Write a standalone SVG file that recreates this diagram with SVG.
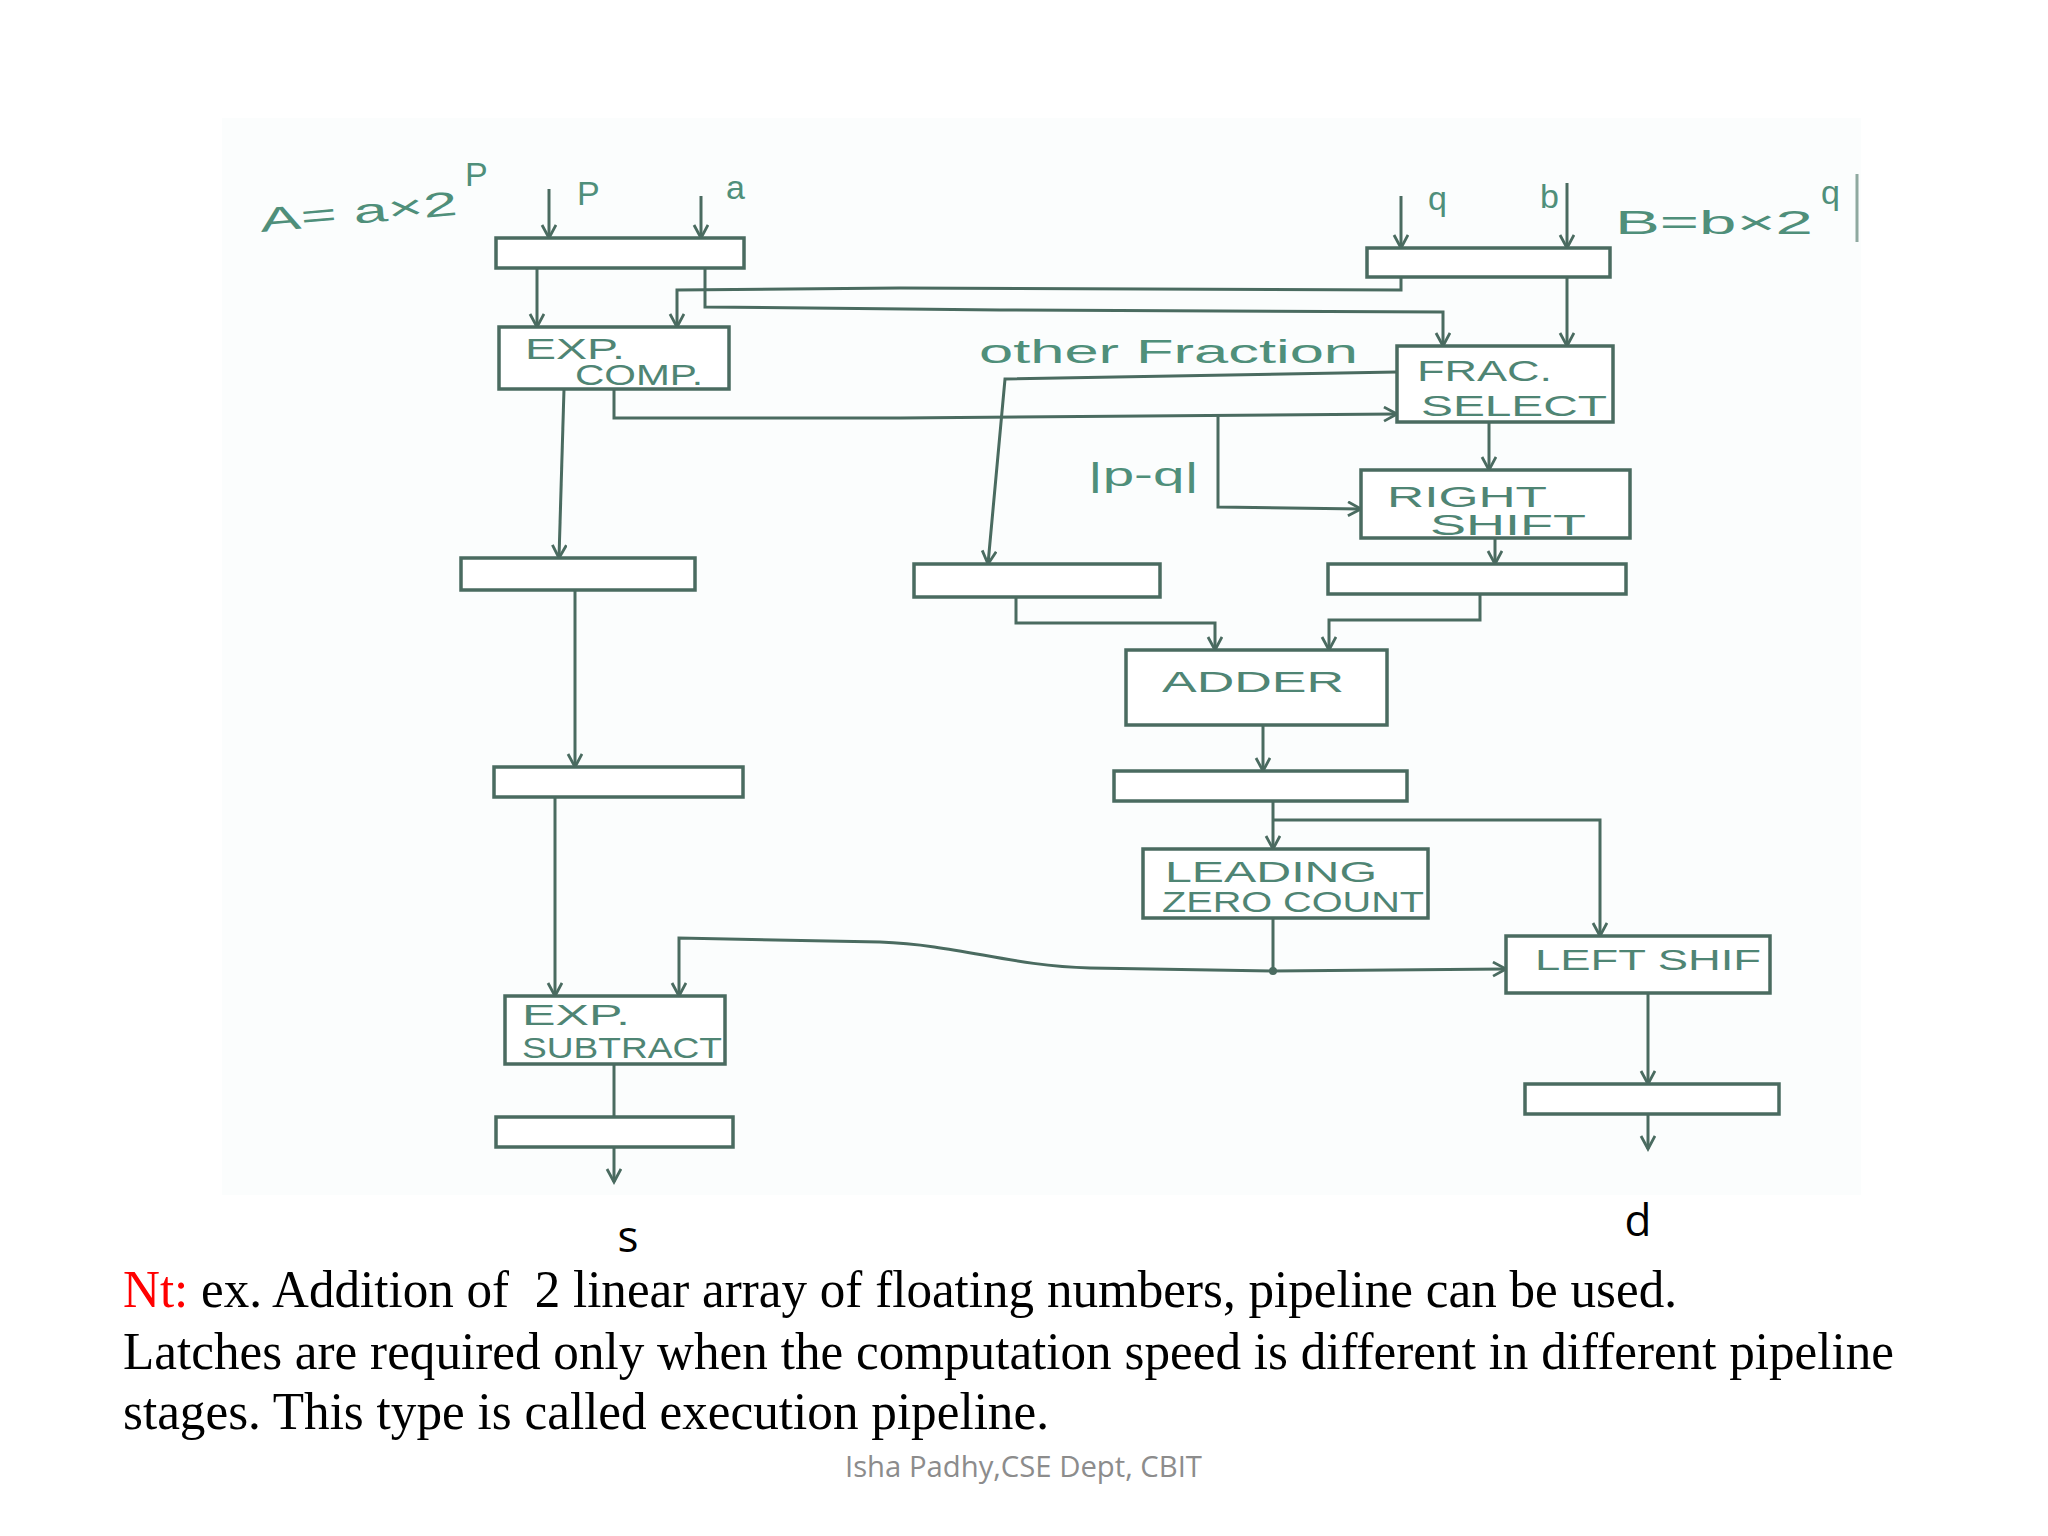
<svg xmlns="http://www.w3.org/2000/svg" width="2048" height="1536" viewBox="0 0 2048 1536">
<defs>
<marker id="ah" markerWidth="18" markerHeight="18" refX="15" refY="8" orient="auto" markerUnits="userSpaceOnUse">
<path d="M2,1 L15,8 L2,15" fill="none" stroke="#4a6b60" stroke-width="2.8"/>
</marker>
</defs>
<style>
.box{fill:#ffffff;stroke:#4a6b60;stroke-width:3.5}
.latch{fill:#ffffff;stroke:#4a6b60;stroke-width:3.5}
.wire{fill:none;stroke:#4a6b60;stroke-width:3}
.arr{marker-end:url(#ah)}
.hl{font-family:"Liberation Sans","DejaVu Sans",sans-serif;fill:#4f8574;font-size:30px}
.lab{font-family:"Liberation Sans","DejaVu Sans",sans-serif;fill:#4f8f7a;font-size:34px}
.note{font-family:"Liberation Serif","Times New Roman",serif;font-size:52px;fill:#000000}
</style>
<rect x="0" y="0" width="2048" height="1536" fill="#ffffff"/>
<rect x="222" y="118" width="1639" height="1077" fill="#fbfdfd"/>
<line x1="1857" y1="174" x2="1857" y2="242" stroke="#8fa9a0" stroke-width="3"/>

<g id="labels">
<text class="lab" transform="translate(261,232) rotate(-5)" textLength="198" lengthAdjust="spacingAndGlyphs">A= a×2</text>
<text class="lab" x="465" y="186" font-size="22">P</text>
<text class="lab" x="577" y="205" font-size="28">P</text>
<text class="lab" x="726" y="199" font-size="32">a</text>
<text class="lab" x="1428" y="210" font-size="30">q</text>
<text class="lab" x="1540" y="208" font-size="32">b</text>
<text class="lab" x="1615" y="234" textLength="198" lengthAdjust="spacingAndGlyphs">B=b×2</text>
<text class="lab" x="1821" y="204" font-size="22">q</text>
<text class="lab" x="979" y="363" textLength="379" lengthAdjust="spacingAndGlyphs">other Fraction</text>
<text class="lab" x="1088" y="486" font-size="32" textLength="111" lengthAdjust="spacingAndGlyphs">|p-q|</text>
</g>

<g id="connectors">
<path class="wire arr" d="M549,189 V238"/>
<path class="wire arr" d="M701,196 V238"/>
<path class="wire arr" d="M1401,196 V248"/>
<path class="wire arr" d="M1567,183 V248"/>
<path class="wire arr" d="M537,268 V327"/>
<path class="wire arr" d="M1401,277 V290 L900,288 L677,290 V327"/>
<path class="wire arr" d="M705,268 V307 L1000,310 L1443,312 V346"/>
<path class="wire arr" d="M1567,277 V346"/>
<path class="wire arr" d="M614,389 V418 L900,418 L1397,414"/>
<path class="wire arr" d="M1218,415 V507 L1361,509"/>
<path class="wire arr" d="M1397,372 L1005,379 L988,564"/>
<path class="wire arr" d="M564,389 L559,558"/>
<path class="wire arr" d="M1489,422 V470"/>
<path class="wire arr" d="M1495,538 V564"/>
<path class="wire arr" d="M575,590 V767"/>
<path class="wire arr" d="M1016,597 V623 H1215 V650"/>
<path class="wire arr" d="M1480,594 V620 H1329 V650"/>
<path class="wire arr" d="M1263,725 V771"/>
<path class="wire arr" d="M1273,801 V849"/>
<path class="wire arr" d="M1273,820 H1600 V936"/>
<path class="wire arr" d="M1273,918 V971 L1506,969"/>
<path class="wire arr" d="M1273,971 L1090,968 C1010,966 960,945 880,942 L679,938 V996"/>
<path class="wire arr" d="M555,797 V996"/>
<path class="wire" d="M614,1064 V1117"/>
<path class="wire arr" d="M614,1147 V1182"/>
<path class="wire arr" d="M1648,993 V1084"/>
<path class="wire arr" d="M1648,1114 V1149"/>
<circle cx="1273" cy="971" r="4" fill="#4a6b60"/>
</g>

<g id="latch-a"><rect class="latch" x="496" y="238" width="248" height="30"/></g>
<g id="latch-b"><rect class="latch" x="1367" y="248" width="243" height="29"/></g>
<g id="exp-comp">
<rect class="box" x="499" y="327" width="230" height="62"/>
<text class="hl" x="525" y="359" textLength="100" lengthAdjust="spacingAndGlyphs">EXP.</text>
<text class="hl" x="575" y="385" textLength="128" lengthAdjust="spacingAndGlyphs">COMP.</text>
</g>
<g id="frac-select">
<rect class="box" x="1397" y="346" width="216" height="76"/>
<text class="hl" x="1417" y="381" textLength="135" lengthAdjust="spacingAndGlyphs">FRAC.</text>
<text class="hl" x="1421" y="416" textLength="186" lengthAdjust="spacingAndGlyphs">SELECT</text>
</g>
<g id="right-shift">
<rect class="box" x="1361" y="470" width="269" height="68"/>
<text class="hl" x="1387" y="507" textLength="160" lengthAdjust="spacingAndGlyphs">RIGHT</text>
<text class="hl" x="1430" y="535" textLength="156" lengthAdjust="spacingAndGlyphs">SHIFT</text>
</g>
<g id="latch-c1"><rect class="latch" x="461" y="558" width="234" height="32"/></g>
<g id="latch-m"><rect class="latch" x="914" y="564" width="246" height="33"/></g>
<g id="latch-r"><rect class="latch" x="1328" y="564" width="298" height="30"/></g>
<g id="adder">
<rect class="box" x="1126" y="650" width="261" height="75"/>
<text class="hl" x="1162" y="692" font-size="34" textLength="182" lengthAdjust="spacingAndGlyphs">ADDER</text>
</g>
<g id="latch-add"><rect class="latch" x="1114" y="771" width="293" height="30"/></g>
<g id="latch-c2"><rect class="latch" x="494" y="767" width="249" height="30"/></g>
<g id="lzc">
<rect class="box" x="1143" y="849" width="285" height="69"/>
<text class="hl" x="1165" y="882" textLength="212" lengthAdjust="spacingAndGlyphs">LEADING</text>
<text class="hl" x="1162" y="912" font-size="26" textLength="262" lengthAdjust="spacingAndGlyphs">ZERO COUNT</text>
</g>
<g id="left-shift">
<rect class="box" x="1506" y="936" width="264" height="57"/>
<text class="hl" x="1535" y="970" font-size="26" textLength="226" lengthAdjust="spacingAndGlyphs">LEFT SHIF</text>
</g>
<g id="exp-sub">
<rect class="box" x="505" y="996" width="220" height="68"/>
<text class="hl" x="522" y="1025" textLength="108" lengthAdjust="spacingAndGlyphs">EXP.</text>
<text class="hl" x="522" y="1058" textLength="200" lengthAdjust="spacingAndGlyphs">SUBTRACT</text>
</g>
<g id="latch-bl"><rect class="latch" x="496" y="1117" width="237" height="30"/></g>
<g id="latch-br"><rect class="latch" x="1525" y="1084" width="254" height="30"/></g>

<g id="outputs">
<text x="628" y="1252" text-anchor="middle" font-family="Open Sans, Liberation Sans, sans-serif" font-size="44" fill="#000000">s</text>
<text x="1638" y="1236" text-anchor="middle" font-family="Open Sans, Liberation Sans, sans-serif" font-size="44" fill="#000000">d</text>
</g>

<g id="note">
<text class="note" x="123" y="1307" textLength="1554" lengthAdjust="spacingAndGlyphs"><tspan fill="#ff0000">Nt:</tspan> ex. Addition of &#160;2 linear array of floating numbers, pipeline can be used.</text>
<text class="note" x="123" y="1369" textLength="1771" lengthAdjust="spacingAndGlyphs">Latches are required only when the computation speed is different in different pipeline</text>
<text class="note" x="123" y="1429" textLength="926" lengthAdjust="spacingAndGlyphs">stages. This type is called execution pipeline.</text>
<text x="845" y="1477" textLength="357" lengthAdjust="spacingAndGlyphs" font-family="Open Sans, Liberation Sans, sans-serif" font-size="30" fill="#8c8c8c">Isha Padhy,CSE Dept, CBIT</text>
</g>
</svg>
